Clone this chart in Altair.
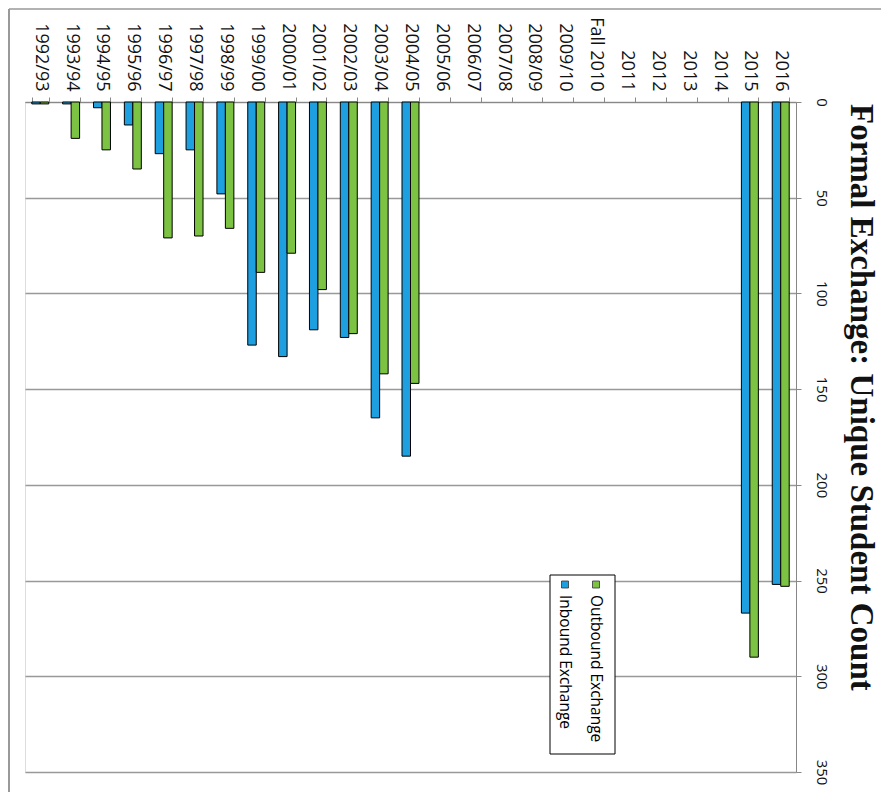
import altair as alt
import pandas as pd

years = ["1992/93", "1993/94", "1994/95", "1995/96", "1996/97", "1997/98",
         "1998/99", "1999/00", "2000/01", "2001/02", "2002/03", "2003/04",
         "2004/05", "2005/06", "2006/07", "2007/08", "2008/09", "2009/10",
         "Fall 2010", "2011", "2012", "2013", "2014", "2015", "2016"]
inbound = [1, 1, 3, 12, 27, 25, 48, 127, 133, 119, 123, 165, 185,
           0, 0, 0, 0, 0, 0, 0, 0, 0, 0, 267, 252]
outbound = [1, 19, 25, 35, 71, 70, 66, 89, 79, 98, 121, 142, 147,
            0, 0, 0, 0, 0, 0, 0, 0, 0, 0, 290, 253]
series = ["Inbound Exchange", "Outbound Exchange"]
colors = ["#1e9fe0", "#7cc243"]
y_ticks = [0, 50, 100, 150, 200, 250, 300, 350]
title_text = "Formal Exchange: Unique Student Count"

rows = []
for yr, a, b in zip(years, inbound, outbound):
    if a > 0:
        rows.append({"year": yr, "series": series[0], "value": a})
    if b > 0:
        rows.append({"year": yr, "series": series[1], "value": b})
df = pd.DataFrame(rows)
one = pd.DataFrame({"title": [title_text]})

W, H = 771, 670

bars = alt.Chart(df).mark_bar(stroke="black", strokeWidth=1).encode(
    x=alt.X("year:N", sort=years, scale=alt.Scale(domain=years, paddingInner=0.45, paddingOuter=0.22),
            axis=alt.Axis(orient="top", title=None, labelAngle=90, labelAlign="right",
                          labelBaseline="middle", labelFontSize=18, labelFont="Open Sans",
                          labelColor="#111", labelPadding=6, tickBand="extent", tickSize=5,
                          tickColor="#888", domainColor="#888", labelOverlap=False)),
    xOffset=alt.XOffset("series:N", sort=series, scale=alt.Scale(domain=series)),
    y=alt.Y("value:Q", scale=alt.Scale(domain=[0, 350], reverse=True, nice=False),
            axis=alt.Axis(orient="right", title=None, values=y_ticks, labelAngle=90,
                          labelAlign="center", labelBaseline="bottom", labelFontSize=15,
                          labelFont="Open Sans", labelColor="#111", labelPadding=12,
                          tickSize=5, tickColor="#888", domainColor="#888",
                          grid=True, gridColor="#999999", gridWidth=1.5)),
    color=alt.Color("series:N", scale=alt.Scale(domain=series, range=colors), legend=None),
)

layers = []
# outer frame lines
layers.append(alt.Chart(one).mark_rule(color="#777", strokeWidth=1.5, clip=False).encode(
    x=alt.value(-16), y=alt.value(-93), y2=alt.value(700)))
layers.append(alt.Chart(one).mark_rule(color="#999", strokeWidth=1.5, clip=False).encode(
    x=alt.value(-16), x2=alt.value(860), y=alt.value(-93)))
layers.append(bars)

# title, rotated like the reference
layers.append(alt.Chart(one).mark_text(angle=90, align="left", baseline="alphabetic",
                                       font="Liberation Serif", fontSize=33, fontWeight="bold",
                                       color="#111", clip=False).encode(
    text="title:N", x=alt.value(826), y=alt.value(2)))

# custom rotated legend
layers.append(alt.Chart(one).mark_rect(fill="white", stroke="black", strokeWidth=1).encode(
    x=alt.value(525), x2=alt.value(590), y=alt.value(473), y2=alt.value(652)))
leg_x = [540, 571]
for name, col, lx in zip(series, colors, leg_x):
    ent = pd.DataFrame({"series": [name]})
    layers.append(alt.Chart(ent).mark_rect(fill=col, stroke="#333", strokeWidth=0.8).encode(
        x=alt.value(lx - 3.5), x2=alt.value(lx + 3.5), y=alt.value(479), y2=alt.value(486)))
    layers.append(alt.Chart(ent).mark_text(angle=90, align="left", baseline="middle",
                                           font="Open Sans", fontSize=15.5, color="#000").encode(
        text="series:N", x=alt.value(lx), y=alt.value(493)))

chart = alt.layer(*layers).properties(
    width=W, height=H,
    autosize=alt.AutoSizeParams(type="none"),
    padding={"left": 17, "top": 94, "right": 85, "bottom": 20},
).configure_view(fill="#e5e5e5", stroke=None).configure(background="white")

chart.save("out.html", embed_options={"renderer": "svg", "actions": False})
